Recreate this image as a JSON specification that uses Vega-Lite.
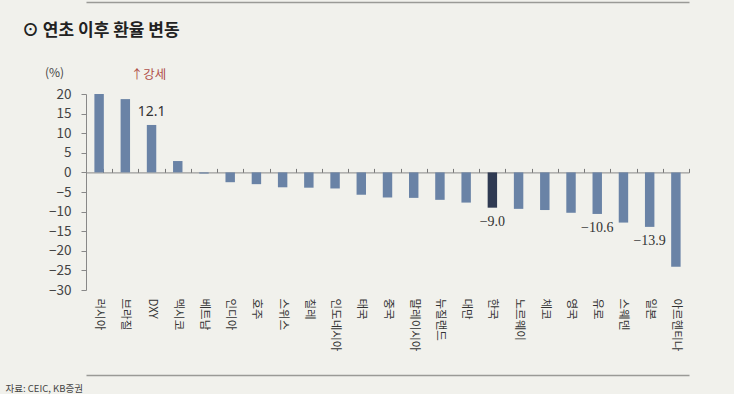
{
  "$schema": "https://vega.github.io/schema/vega-lite/v6.json",
  "width": 603,
  "height": 196,
  "autosize": {"type": "none"},
  "padding": {"left": 86, "top": 94, "right": 45, "bottom": 104},
  "background": "#f1f1ec",
  "config": {"view": {"stroke": null}, "font": "Noto Sans CJK KR"},
  "title": {
    "text": "⊙ 연초 이후 환율 변동",
    "anchor": "start",
    "frame": "group",
    "dx": -64,
    "offset": -38,
    "fontSize": 17,
    "fontWeight": "bold",
    "color": "#222222",
    "font": "Noto Sans CJK KR"
  },
  "data": {
    "values": [
      {"country": "러시아", "value": 20.0},
      {"country": "브라질", "value": 18.7},
      {"country": "DXY", "value": 12.1},
      {"country": "멕시코", "value": 2.9},
      {"country": "베트남", "value": -0.3},
      {"country": "인디아", "value": -2.5},
      {"country": "호주", "value": -3.0},
      {"country": "스위스", "value": -3.8},
      {"country": "칠레", "value": -3.9},
      {"country": "인도네시아", "value": -4.1},
      {"country": "태국", "value": -5.7},
      {"country": "중국", "value": -6.4},
      {"country": "말레이시아", "value": -6.5},
      {"country": "뉴질랜드", "value": -7.0},
      {"country": "대만", "value": -7.7},
      {"country": "한국", "value": -9.0},
      {"country": "노르웨이", "value": -9.3},
      {"country": "체코", "value": -9.6},
      {"country": "영국", "value": -10.3},
      {"country": "유로", "value": -10.6},
      {"country": "스웨덴", "value": -12.8},
      {"country": "일본", "value": -13.9},
      {"country": "아르헨티나", "value": -24.1}
    ]
  },
  "resolve": {"axis": {"x": "independent", "y": "independent"}},
  "layer": [
    {
      "mark": {"type": "bar"},
      "encoding": {
        "x": {
          "field": "country",
          "type": "nominal",
          "sort": null,
          "scale": {"paddingInner": 0.64, "paddingOuter": 0.32},
          "axis": {
            "orient": "bottom",
            "labelAngle": 90,
            "labelAlign": "left",
            "labelBaseline": "middle",
            "labelPadding": 8,
            "labelFontSize": 11.5,
            "labelColor": "#333333",
            "ticks": false,
            "domain": false,
            "title": "자료: CEIC, KB증권",
            "titleX": -81,
            "titleY": 98,
            "titleAngle": 0,
            "titleAlign": "left",
            "titleBaseline": "middle",
            "titleFontSize": 9.5,
            "titleFontWeight": "normal",
            "titleColor": "#444444"
          }
        },
        "y": {
          "field": "value",
          "type": "quantitative",
          "scale": {"domain": [-30, 20], "nice": false},
          "axis": {
            "orient": "left",
            "values": [-30, -25, -20, -15, -10, -5, 0, 5, 10, 15, 20],
            "grid": false,
            "tickSize": 5,
            "tickColor": "#888888",
            "domainColor": "#888888",
            "labelPadding": 10,
            "labelFontSize": 13.5,
            "labelColor": "#444444",
            "title": "(%)",
            "titleAngle": 0,
            "titleX": -32,
            "titleY": -22,
            "titleAlign": "center",
            "titleBaseline": "middle",
            "titleFontSize": 12,
            "titleFontWeight": "normal",
            "titleColor": "#444444"
          }
        },
        "color": {
          "condition": {"test": "datum.country === '한국'", "value": "#2f3a52"},
          "value": "#6a83a6"
        }
      }
    },
    {
      "transform": [{"filter": "datum.country === 'DXY'"}],
      "mark": {"type": "text", "baseline": "middle", "align": "center", "dy": -13, "fontSize": 14, "color": "#333333", "font": "Noto Sans"},
      "encoding": {
        "x": {
          "field": "country",
          "type": "nominal",
          "sort": null,
          "axis": {
            "orient": "top",
            "offset": -78.4,
            "labels": false,
            "ticks": true,
            "bandPosition": 1,
            "tickOffset": 8.4,
            "tickExtra": true,
            "tickSize": 4,
            "tickColor": "#777777",
            "domainColor": "#888888",
            "title": null,
            "grid": false
          }
        },
        "y": {"field": "value", "type": "quantitative", "axis": null},
        "text": {"field": "value", "type": "quantitative", "format": ".1f"}
      }
    },
    {
      "transform": [{"filter": "indexof(['한국', '유로', '일본'], datum.country) >= 0"}],
      "mark": {"type": "text", "baseline": "middle", "align": "center", "dy": 14, "fontSize": 14, "color": "#333333", "font": "Liberation Serif"},
      "encoding": {
        "x": {
          "field": "country",
          "type": "nominal",
          "sort": null,
          "axis": {
            "orient": "top",
            "offset": 92,
            "labels": false,
            "ticks": false,
            "domainColor": "#9a9a96",
            "domainWidth": 1.5,
            "title": null,
            "grid": false
          }
        },
        "y": {"field": "value", "type": "quantitative", "axis": null},
        "text": {"field": "value", "type": "quantitative", "format": ".1f"}
      }
    },
    {
      "data": {"values": [{"country": "DXY", "value": 20, "note": "↑강세"}]},
      "mark": {"type": "text", "baseline": "middle", "align": "center", "dx": -3, "dy": -19, "fontSize": 12.5, "color": "#b0504a"},
      "encoding": {
        "x": {
          "field": "country",
          "type": "nominal",
          "sort": null,
          "axis": {
            "orient": "bottom",
            "offset": 85,
            "labels": false,
            "ticks": false,
            "domainColor": "#9a9a96",
            "domainWidth": 1.5,
            "title": null,
            "grid": false
          }
        },
        "y": {"field": "value", "type": "quantitative", "axis": null},
        "text": {"field": "note", "type": "nominal"}
      }
    }
  ]
}
